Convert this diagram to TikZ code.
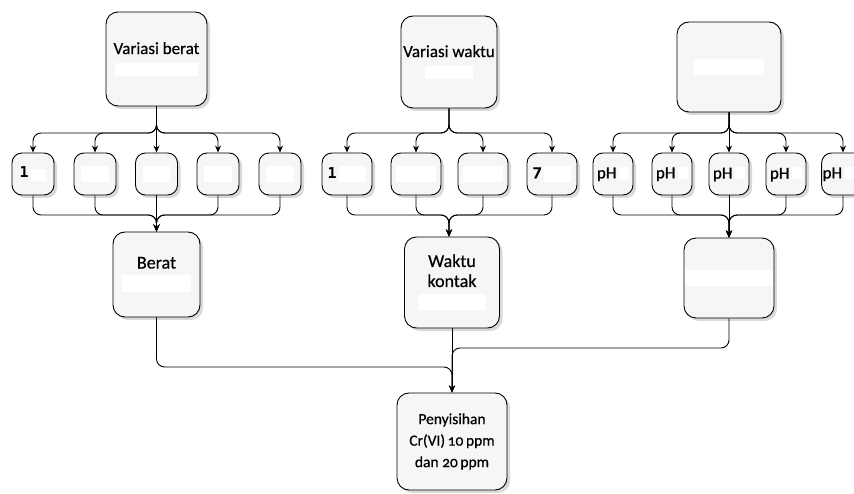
\documentclass[tikz,border=0pt]{standalone}
\usepackage{fontspec}
\setmainfont{Carlito}[FakeBold=0.6]
\newfontfamily\monof{DejaVu Sans Mono}
\usetikzlibrary{shadows,arrows.meta}
\newcommand{\wt}[1]{{\setlength{\fboxsep}{0.6pt}\colorbox{white}{\textcolor{white}{#1}}}}
\begin{document}
\begin{tikzpicture}[x=1pt,y=-1pt,
  box/.style={draw=black,line width=0.9pt,fill=gray!7,align=center,inner sep=1pt,
    drop shadow={shadow xshift=3pt,shadow yshift=-3pt,fill=gray!30,opacity=1}},
  big/.style={box,rounded corners=12pt},
  topf/.style={font=\fontsize{17}{21}\selectfont},
  midf/.style={font=\fontsize{18}{20}\selectfont},
  small/.style={box,rounded corners=10pt,minimum height=42pt,font=\fontsize{17}{20}\selectfont},
  con/.style={draw=black,line width=0.9pt,rounded corners=8pt},
  arr/.style={con,-{Stealth[length=7pt,width=6pt]}}]
\useasboundingbox (0,0) rectangle (854,494);
% top boxes
\node[big,topf,minimum width=101pt,minimum height=94pt] (A) at (156.5,59) {Variasi berat\\\wt{karbon aktif}};
\node[big,topf,minimum width=96pt,minimum height=92pt] (B) at (449,62) {Variasi waktu\\\wt{kontak}};
\node[big,topf,minimum width=104pt,minimum height=90pt] (C) at (729,67) {\wt{Variasi pH}};
% small boxes group 1
\node[small,minimum width=42pt] (a1) at (33,174) {{\monof\bfseries\fontsize{15}{17}\selectfont 1}\,\wt{gr}};
\node[small,minimum width=42pt] (a2) at (95,174) {\wt{2 gr}};
\node[small,minimum width=42pt] (a3) at (156.5,174) {\wt{3 gr}};
\node[small,minimum width=42pt] (a4) at (218,174) {\wt{4 gr}};
\node[small,minimum width=42pt] (a5) at (280,174) {\wt{5 gr}};
% group 2
\node[small,minimum width=50pt] (b1) at (347,174) {{\monof\bfseries\fontsize{15}{17}\selectfont 1}\,\wt{jam}};
\node[small,minimum width=50pt] (b2) at (416,174) {\wt{3 jam}};
\node[small,minimum width=50pt] (b3) at (483,174) {\wt{5 jam}};
\node[small,minimum width=50pt] (b4) at (552,174) {{\bfseries 7}\,\wt{jam}};
% group 3
\node[small,minimum width=40pt] (c1) at (613,174) {pH\,\wt{2}};
\node[small,minimum width=40pt] (c2) at (672,174) {pH\,\wt{4}};
\node[small,minimum width=40pt] (c3) at (729,174) {pH\,\wt{6}};
\node[small,minimum width=40pt] (c4) at (786,174) {pH\,\wt{8}};
\node[small,minimum width=40pt] (c5) at (843,174) {pH\,\wt{10}};
% middle boxes
\node[big,midf,minimum width=87pt,minimum height=85pt] (M1) at (156.5,274.5) {Berat\\\wt{optimum}};
\node[big,midf,minimum width=95pt,minimum height=91pt] (M2) at (452,282.5) {Waktu\\kontak\\\wt{optimum}};
\node[big,topf,minimum width=88pt,minimum height=80pt] (M3) at (729,278) {\wt{pH optimum}};
% final
\node[big,font=\fontsize{15.5}{21.5}\selectfont,minimum width=110pt,minimum height=97pt] (F) at (452,441.5) {Penyisihan\\Cr(VI)\,{\addfontfeatures{Numbers=OldStyle}10}\,ppm\\dan {\addfontfeatures{Numbers=OldStyle}20}\,ppm};
% junction coordinates
\coordinate (jA) at (156.5,133);
\coordinate (jB) at (449,133);
\coordinate (jC) at (729,133);
\coordinate (kA) at (156.5,215);
\coordinate (kB) at (449,215);
\coordinate (kC) at (729,215);
\coordinate (j1) at (452,367);
\coordinate (j2) at (452,348);
% top branches
\foreach \s in {a1,a2,a4,a5} \draw[arr] (A.south) -- (jA) -| (\s.north);
\draw[arr] (A.south) -- (a3.north);
\foreach \s in {b1,b2,b3,b4} \draw[arr] (B.south) -- (jB) -| (\s.north);
\foreach \s in {c1,c2,c4,c5} \draw[arr] (C.south) -- (jC) -| (\s.north);
\draw[arr] (C.south) -- (c3.north);
% merges
\foreach \s in {a1,a2,a4,a5} \draw[arr] (\s.south) |- (kA) -- (M1.north);
\draw[arr] (a3.south) -- (M1.north);
\foreach \s in {b1,b2,b3,b4} \draw[arr] (\s.south) |- (kB) -- (M2.north-|kB);
\foreach \s in {c1,c2,c4,c5} \draw[arr] (\s.south) |- (kC) -- (M3.north);
\draw[arr] (c3.south) -- (M3.north);
% final
\draw[arr] (M1.south) |- (j1) -- (F.north);
\draw[arr] (M3.south) |- (j2) -- (F.north);
\draw[arr] (M2.south) -- (F.north);
\end{tikzpicture}
\end{document}
